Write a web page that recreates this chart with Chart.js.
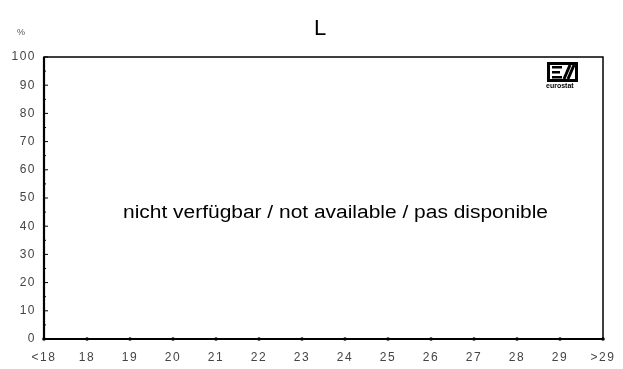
<!DOCTYPE html>
<html><head><meta charset="utf-8">
<script src="https://cdn.jsdelivr.net/npm/chart.js@4.4.1/dist/chart.umd.min.js"></script>
<style>html,body{margin:0;padding:0;background:#fff}#wrap{width:623px;height:369px}</style>
</head><body><div id="wrap"><canvas id="c" width="623" height="369"></canvas></div>
<script>
const categories = ['<18','18','19','20','21','22','23','24','25','26','27','28','29','>29'];
const seriesValues = [null,null,null,null,null,null,null,null,null,null,null,null,null,null];
const yTickLabels = {100:'100',90:'90',80:'80',70:'70',60:'60',50:'50',40:'40',30:'30',20:'20',10:'10',0:'0'};
const titleText = 'L';
const unitText = '%';
const noDataText = 'nicht verfügbar / not available / pas disponible';

const FONT = "'Liberation Sans', Arial, sans-serif";

const spacing = {
  id: 'spacing',
  beforeDraw(chart) { chart.ctx.letterSpacing = '1.5px'; }
};

const decor = {
  id: 'decor',
  afterDraw(chart) {
    const {ctx, chartArea: a, scales: {x, y}} = chart;
    ctx.save();
    ctx.letterSpacing = '0px';
    // frame
    ctx.strokeStyle = '#000';
    ctx.lineWidth = 1.5;
    ctx.strokeRect(a.left, a.top, a.right - a.left, a.bottom - a.top);
    ctx.lineWidth = 2.2;
    ctx.beginPath();
    ctx.moveTo(a.left, a.top); ctx.lineTo(a.left, a.bottom); ctx.lineTo(a.right, a.bottom);
    ctx.stroke();
    // inward ticks
    ctx.lineWidth = 1;
    for (let v = 0; v <= 100; v += 5) {
      const py = y.getPixelForValue(v);
      ctx.beginPath(); ctx.moveTo(a.left, py); ctx.lineTo(a.left + (v % 10 === 0 ? 4 : 2), py); ctx.stroke();
    }
    ctx.fillStyle = '#000';
    categories.forEach((c, i) => {
      const px = x.getPixelForValue(i);
      ctx.beginPath(); ctx.arc(px, a.bottom, 1.8, 0, Math.PI * 2); ctx.fill();
    });
    // title
    ctx.fillStyle = '#000';
    ctx.font = '22px ' + FONT;
    ctx.textAlign = 'center'; ctx.textBaseline = 'middle';
    ctx.fillText(titleText, 320, 29);
    // unit label
    ctx.fillStyle = '#555';
    ctx.font = '9px ' + FONT;
    ctx.fillText(unitText, 21, 33);
    // no data message
    ctx.fillStyle = '#000';
    ctx.font = '18px ' + FONT;
    ctx.textBaseline = 'alphabetic';
    const w = ctx.measureText(noDataText).width;
    const target = 425;
    ctx.translate((a.left + a.right) / 2 + 12, y.getPixelForValue(43));
    ctx.scale(target / w, 1);
    ctx.fillText(noDataText, 0, 0);
    ctx.setTransform(1, 0, 0, 1, 0, 0);
    // logo
    const lx = a.right - 56, ly = a.top + 5;
    ctx.fillStyle = '#000';
    ctx.fillRect(lx, ly, 31, 20);
    ctx.fillStyle = '#fff';
    ctx.fillRect(lx + 3, ly + 3, 25, 14);
    ctx.fillStyle = '#000';
    ctx.fillRect(lx + 5, ly + 4, 10, 2.5);
    ctx.fillRect(lx + 5, ly + 9, 8, 2.5);
    ctx.fillRect(lx + 5, ly + 14, 10, 2.5);
    ctx.lineWidth = 3;
    ctx.strokeStyle = '#000';
    ctx.beginPath(); ctx.moveTo(lx + 17, ly + 17); ctx.lineTo(lx + 23, ly + 3); ctx.stroke();
    ctx.beginPath(); ctx.moveTo(lx + 21, ly + 17); ctx.lineTo(lx + 27, ly + 3); ctx.stroke();
    ctx.font = 'bold 7px ' + FONT;
    ctx.textAlign = 'left'; ctx.textBaseline = 'top';
    ctx.fillText('eurostat', lx - 1, ly + 21);
    ctx.restore();
  }
};

new Chart(document.getElementById('c'), {
  type: 'line',
  data: { labels: categories, datasets: [{ data: seriesValues, borderColor: '#000', pointRadius: 0 }] },
  plugins: [spacing, decor],
  options: {
    responsive: false,
    animation: false,
    layout: { padding: { left: 0, right: 20, top: 57, bottom: 0 } },
    plugins: {
      legend: { display: false },
      tooltip: { enabled: false },
      title: { display: false }
    },
    scales: {
      x: {
        type: 'category', offset: false,
        border: { display: false },
        grid: { display: false },
        ticks: { color: '#444', font: { family: FONT, size: 12 }, padding: 3, maxRotation: 0, autoSkip: false },
        afterFit(s) { s.height = 30; }
      },
      y: {
        min: 0, max: 100,
        border: { display: false },
        grid: { display: false },
        ticks: { stepSize: 10, color: '#444', font: { family: FONT, size: 12 }, padding: 0,
          callback: (v) => yTickLabels[v] !== undefined ? yTickLabels[v] : '' },
        afterFit(s) { s.width = 44; }
      }
    }
  }
});
</script></body></html>
